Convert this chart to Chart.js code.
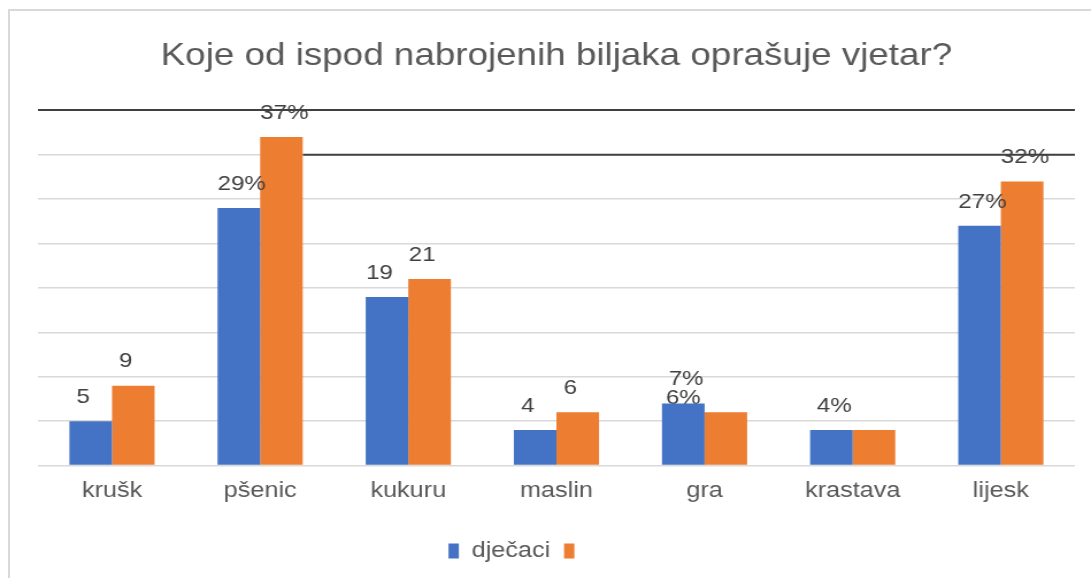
<!DOCTYPE html>
<html>
<head>
<meta charset="utf-8">
<script src="https://cdn.jsdelivr.net/npm/chart.js@4"></script>
<style>
  body { margin: 0; background: #fff; }
  #okvir { position: absolute; left: 8px; top: 9px; width: 1200px; height: 700px;
           border-left: 2px solid #d9d9d9; border-top: 2px solid #d9d9d9; }
  #wrap { position: absolute; left: 0; top: 0; width: 1091px; height: 578px; }
</style>
</head>
<body>
<div id="okvir"></div>
<!-- originalna slika je malo razvučena vodoravno, pa i canvas -->
<div id="wrap"><canvas id="graf" width="949" height="578" style="width:1091px;height:578px"></canvas></div>
<script>
// podaci
var kategorije = ["krušk", "pšenic", "kukuru", "maslin", "gra", "krastava", "lijesk"];
var djecaci    = [5, 29, 19, 4, 7, 4, 27];
var drugi      = [9, 37, 21, 6, 6, 4, 32];
var oznakeDjecaci = ["5", "29%", "19", "4", "7%", "4%", "27%"];
var oznakeDrugi   = ["9", "37%", "21", "6", "6%", "", "32%"];
var yTicks = [0, 5, 10, 15, 20, 25, 30, 35, 40];

var tekst = "#595959";
var font = "'Liberation Sans', Arial, sans-serif";

function pomak(t) { return t.indexOf("%") >= 0 ? 2.5 : -6.5; }

// oznake iznad stupaca
var oznakePlugin = {
  id: "oznake",
  beforeDatasetsDraw: function(chart) {
    // "6%" kod "gra" je skriven iza plavog stupca
    var ctx = chart.ctx;
    var plavi = chart.getDatasetMeta(0).data[4];
    var nar = chart.getDatasetMeta(1).data[4];
    ctx.save();
    ctx.font = "21px " + font;
    ctx.fillStyle = "#404040";
    ctx.textAlign = "center";
    ctx.textBaseline = "middle";
    ctx.fillText(oznakeDrugi[4], plavi.x, nar.y - 14);
    ctx.restore();
  },
  afterDatasetsDraw: function(chart) {
    var ctx = chart.ctx;
    var skupovi = [oznakeDjecaci, oznakeDrugi];
    ctx.save();
    ctx.font = "21px " + font;
    ctx.fillStyle = "#404040";
    ctx.textAlign = "center";
    ctx.textBaseline = "middle";
    for (var d = 0; d < 2; d++) {
      var meta = chart.getDatasetMeta(d);
      meta.data.forEach(function(el, i) {
        if (d === 1 && i === 4) return;
        var t = skupovi[d][i];
        if (!t) return;
        ctx.fillText(t, el.x + pomak(t), el.y - 24);
      });
    }
    ctx.restore();
  }
};

// tamna linija na 35 (od stupca pšenice nadesno)
var linijaPlugin = {
  id: "linija35",
  beforeDatasetsDraw: function(chart) {
    var y = chart.scales.y.getPixelForValue(yTicks[7]);
    var el = chart.getDatasetMeta(1).data[1];
    var ctx = chart.ctx;
    ctx.save();
    ctx.strokeStyle = "#404040";
    ctx.lineWidth = 2;
    ctx.beginPath();
    ctx.moveTo(el.x + el.width / 2, y);
    ctx.lineTo(chart.chartArea.right, y);
    ctx.stroke();
    ctx.restore();
  }
};

new Chart(document.getElementById("graf"), {
  type: "bar",
  data: {
    labels: kategorije,
    datasets: [
      { label: "dječaci", data: djecaci, backgroundColor: "#4472C4" },
      // druga serija nema ime; razmaci pomiču legendu ulijevo kao na originalu
      { label: "           ", data: drugi, backgroundColor: "#ED7D31" }
    ]
  },
  options: {
    responsive: false,
    animation: false,
    devicePixelRatio: 1,
    layout: { padding: { left: 33, right: 14, top: 0, bottom: 6 } },
    datasets: { bar: { barPercentage: 1, categoryPercentage: 0.575 } },
    plugins: {
      title: {
        display: true,
        text: "Koje od ispod nabrojenih biljaka oprašuje vjetar?",
        color: tekst,
        font: { family: font, size: 32, weight: "normal" },
        padding: { top: 37, bottom: 35 }
      },
      legend: {
        position: "bottom",
        labels: {
          color: tekst,
          boxWidth: 9,
          boxHeight: 15,
          padding: 12,
          font: { family: font, size: 22 }
        }
      },
      tooltip: { enabled: false }
    },
    scales: {
      x: {
        grid: { display: false, drawTicks: false },
        border: { display: false },
        afterFit: function(axis) { axis.height += 12; },
        ticks: {
          color: tekst,
          padding: 12,
          font: { family: font, size: 22 }
        }
      },
      y: {
        min: 0,
        max: 40,
        afterBuildTicks: function(axis) {
          axis.ticks = yTicks.map(function(v) { return { value: v }; });
        },
        border: { display: false },
        grid: {
          drawTicks: false,
          color: function(c) { return c.tick.value === 40 ? "#404040" : "#d9d9d9"; },
          lineWidth: function(c) { return c.tick.value === 40 ? 2 : 1.5; }
        },
        ticks: { display: false }
      }
    }
  },
  plugins: [linijaPlugin, oznakePlugin]
});
</script>
</body>
</html>
